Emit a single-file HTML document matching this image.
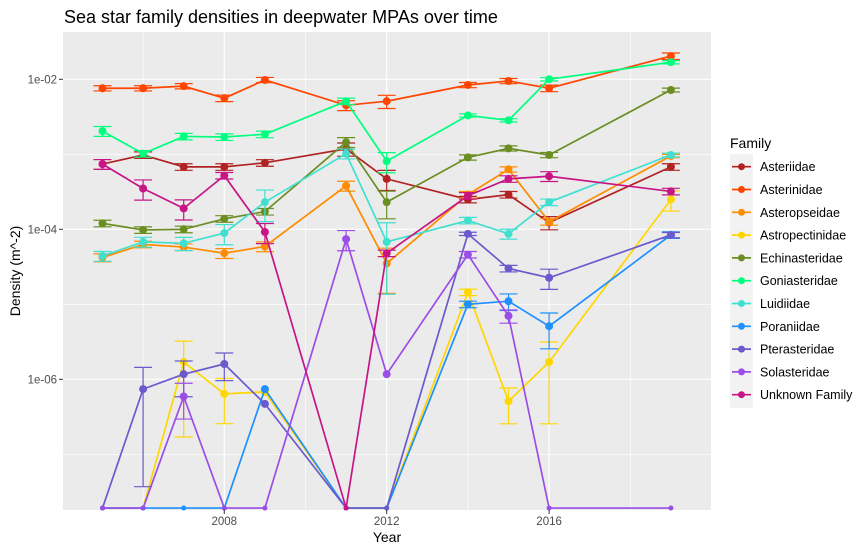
<!DOCTYPE html>
<html><head><meta charset="utf-8"><style>
body{margin:0;background:#fff;font-family:"Liberation Sans",Arial,sans-serif}
svg text{font-family:"Liberation Sans",Arial,sans-serif}
</style></head><body>
<svg id="chart" width="866" height="553" xmlns="http://www.w3.org/2000/svg">
<rect width="866" height="553" fill="#fff"/>
<text x="64" y="23" font-size="18" fill="#000">Sea star family densities in deepwater MPAs over time</text>
<rect x="63" y="32" width="648" height="478" fill="#EBEBEB"/>
<g id="grid"></g>
<g id="series"></g>
<g id="axes"></g>
<text x="387" y="542" font-size="14" text-anchor="middle">Year</text>
<text transform="translate(20,271) rotate(-90)" font-size="14" text-anchor="middle">Density (m^-2)</text>
<g id="legend"></g>
</svg>
<script>
const years = [2005,2006,2007,2008,2009,2011,2012,2014,2015,2016,2019];
const families = ["Asteriidae","Asterinidae","Asteropseidae","Astropectinidae","Echinasteridae","Goniasteridae","Luidiidae","Poraniidae","Pterasteridae","Solasteridae","Unknown Family"];
const colors = ["#B22222","#FF4500","#FF8C00","#FFD700","#6B8E23","#00FF7F","#40E0D0","#1E90FF","#6A5ACD","#9B4DE8","#C71585"];
const asteriidae = [7.4e-4,9.8e-4,6.8e-4,6.8e-4,7.7e-4,1.18e-3,4.7e-4,2.5e-4,2.9e-4,1.23e-4,6.8e-4];
const asterinidae = [7.6e-3,7.6e-3,8.1e-3,5.6e-3,9.8e-3,4.5e-3,5.1e-3,8.4e-3,9.5e-3,7.6e-3,2.04e-2];
const asteropseidae = [4.2e-5,6.3e-5,5.8e-5,4.8e-5,5.9e-5,3.8e-4,3.5e-5,2.9e-4,6.3e-4,1.26e-4,9.5e-4];
const astropectinidae = [0,0,1.7e-6,6.4e-7,6.8e-7,0,0,1.45e-5,5.1e-7,1.7e-6,2.5e-4];
const echinasteridae = [1.2e-4,9.8e-5,1.0e-4,1.38e-4,1.72e-4,1.45e-3,2.3e-4,9.1e-4,1.2e-3,9.8e-4,7.2e-3];
const goniasteridae = [2.04e-3,1.02e-3,1.73e-3,1.7e-3,1.85e-3,5.1e-3,8.1e-4,3.3e-3,2.84e-3,1.0e-2,1.69e-2];
const luidiidae = [4.4e-5,6.8e-5,6.5e-5,8.9e-5,2.3e-4,1.02e-3,6.8e-5,1.31e-4,8.7e-5,2.3e-4,9.8e-4];
const poraniidae = [0,0,0,0,7.4e-7,0,0,1.0e-5,1.1e-5,5.1e-6,8.4e-5];
const pterasteridae = [0,7.4e-7,1.17e-6,1.6e-6,4.7e-7,0,0,8.7e-5,3.0e-5,2.26e-5,8.4e-5];
const solasteridae = [0,0,5.9e-7,0,0,7.4e-5,1.17e-6,4.6e-5,7.0e-6,0,0];
const unknownFamily = [7.4e-4,3.5e-4,1.9e-4,5.2e-4,9.2e-5,0,4.8e-5,2.8e-4,4.7e-4,5.1e-4,3.2e-4];
// relative standard error (fraction) per point
const errAsteriidae = [0.15,0.1,0.1,0.1,0.1,0.2,0.3,0.1,0.1,0.2,0.1];
const errAsterinidae = [0.08,0.08,0.08,0.1,0.08,0.15,0.2,0.08,0.08,0.1,0.1];
const errAsteropseidae = [0.12,0.1,0.1,0.15,0.15,0.15,0.6,0.1,0.08,0.1,0.05];
const errAstropectinidae = [0,0,0.9,0.6,0,0,0,0.1,0.5,0.85,0.3];
const errEchinasteridae = [0.1,0.1,0.1,0.1,0.1,0.15,0.4,0.08,0.08,0.08,0.06];
const errGoniasteridae = [0.15,0.1,0.1,0.1,0.1,0.1,0.3,0.05,0.05,0.05,0.05];
const errLuidiidae = [0.15,0.15,0.2,0.3,0.45,0.15,0.8,0.1,0.15,0.1,0.06];
const errPoraniidae = [0,0,0,0,0,0,0,0.1,0.25,0.5,0.1];
const errPterasteridae = [0,0.95,0.5,0.4,0,0,0,0.05,0.1,0.3,0.08];
const errSolasteridae = [0,0,0.5,0,0,0.3,0,0.1,0.2,0,0];
const errUnknown = [0.15,0.3,0.3,0.1,0.3,0,0.1,0.1,0.1,0.15,0.1];
const seriesValues = [asteriidae,asterinidae,asteropseidae,astropectinidae,echinasteridae,goniasteridae,luidiidae,poraniidae,pterasteridae,solasteridae,unknownFamily];
const seriesErr = [errAsteriidae,errAsterinidae,errAsteropseidae,errAstropectinidae,errEchinasteridae,errGoniasteridae,errLuidiidae,errPoraniidae,errPterasteridae,errSolasteridae,errUnknown];
const xTicks = [2008,2012,2016];
const yTicks = [1e-2,1e-4,1e-6];
const yTickLabels = ["1e-02","1e-04","1e-06"];

const NS="http://www.w3.org/2000/svg";
const X=yr=>224.3+(yr-2008)*40.6;
const FLOOR=1.92e-8;
const Y=v=>79.3+(-2-Math.log10(Math.max(v,FLOOR)))*75;
function mk(tag,attrs,parent){const e=document.createElementNS(NS,tag);for(const k in attrs)e.setAttribute(k,attrs[k]);parent.appendChild(e);return e;}
const grid=document.getElementById('grid'),ser=document.getElementById('series'),axes=document.getElementById('axes'),leg=document.getElementById('legend');
[1e-3,1e-5,1e-7].forEach(v=>{const l=mk('line',{x1:63,x2:711,y1:Y(v),y2:Y(v),stroke:'#fff','stroke-width':0.6},grid);

});
[2006,2010,2014,2018].forEach(t=>{const l=mk('line',{x1:X(t),x2:X(t),y1:32,y2:510,stroke:'#fff','stroke-width':0.6},grid);

});
yTicks.forEach((v,i)=>{const l=mk('line',{x1:63,x2:711,y1:Y(v),y2:Y(v),stroke:'#fff','stroke-width':1.2},grid);


const tk=mk('line',{x1:59,x2:63,y1:Y(v),y2:Y(v),stroke:'#333','stroke-width':1},axes);


const t=mk('text',{x:57,y:Y(v)+4,'font-size':11.5,'text-anchor':'end',fill:'#4D4D4D'},axes);t.textContent=yTickLabels[i];

});
xTicks.forEach(t=>{const l=mk('line',{x1:X(t),x2:X(t),y1:32,y2:510,stroke:'#fff','stroke-width':1.2},grid);


const tk=mk('line',{x1:X(t),x2:X(t),y1:510,y2:514,stroke:'#333','stroke-width':1},axes);


const tx=mk('text',{x:X(t),y:525,'font-size':11.5,'text-anchor':'middle',fill:'#4D4D4D'},axes);tx.textContent=t;

});
seriesValues.forEach((vals,s)=>{
  const g=mk('g',{},ser);
  
  
  const c=colors[s];
  vals.forEach((v,i)=>{const e=seriesErr[s][i];if(v>0&&e>0){
    const x=X(years[i]),y1=Y(v*(1+e)),y2=Y(v*(1-e>0.02?1-e:0.02));
    const eb=mk('path',{d:`M${x-9},${y1}H${x+9}M${x},${y1}V${y2}M${x-9},${y2}H${x+9}`,stroke:c,'stroke-width':1.2,fill:'none'},g);
    
    }});
  const pl=mk('polyline',{points:vals.map((v,i)=>X(years[i])+','+Y(v)).join(' '),stroke:c,'stroke-width':1.7,fill:'none'},g);
  
  
  vals.forEach((v,i)=>{const p=mk('circle',{cx:X(years[i]),cy:Y(v),r:v>0?4:2.5,fill:c},g);
    
    });
});
const lt=mk('text',{x:730,y:148,'font-size':14},leg);lt.textContent='Family';


mk('rect',{x:730,y:154,width:23,height:254,fill:'#F2F2F2'},leg);
families.forEach((f,i)=>{const y=166.7+i*22.8;
  const g=mk('g',{},leg);
  
  
  mk('line',{x1:732,x2:751,y1:y,y2:y,stroke:colors[i],'stroke-width':1.7},g);
  mk('circle',{cx:741.5,cy:y,r:3.5,fill:colors[i]},g);
  const t=mk('text',{x:760,y:y+4.5,'font-size':12.5},g);t.textContent=f;});
</script>
</body></html>
